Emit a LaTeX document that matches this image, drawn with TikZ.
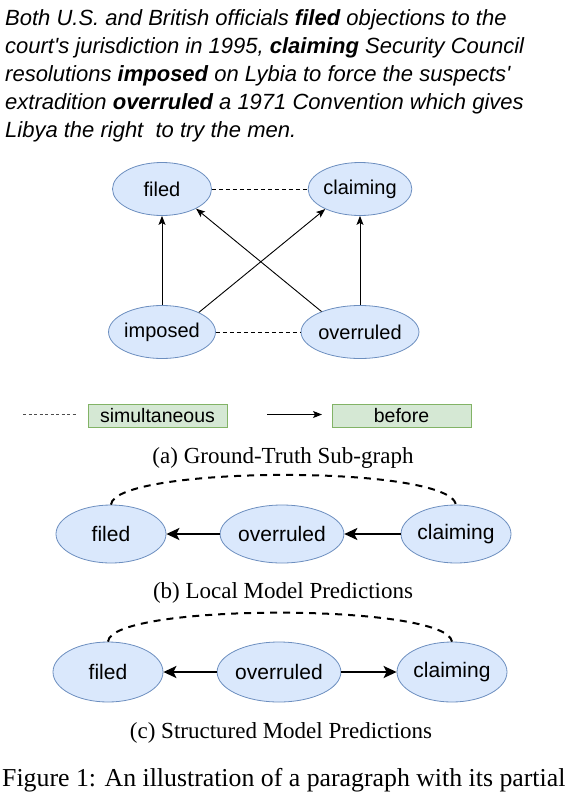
\documentclass[tikz,border=0pt]{standalone}
\usepackage{fontspec}
\setmainfont{Liberation Serif}
\newfontfamily\hv{Liberation Sans}
\usetikzlibrary{arrows.meta,shapes.geometric}
\definecolor{bfill}{HTML}{DAE8FC}
\definecolor{bdraw}{HTML}{6C8EBF}
\definecolor{gfill}{HTML}{D5E8D4}
\definecolor{gdraw}{HTML}{82B366}
\tikzset{
  ev/.style={ellipse,draw=bdraw,fill=bfill,line width=0.8pt,inner sep=0pt,font=\hv\fontsize{20}{24}\selectfont},
  evb/.style={ev,font=\hv\fontsize{21}{25}\selectfont},
  legbox/.style={rectangle,draw=gdraw,fill=gfill,line width=0.9pt,inner sep=0pt,minimum height=23pt,font=\hv\fontsize{19.5}{23}\selectfont},
  thinarr/.style={line width=0.9pt,-{Stealth[length=9pt,width=7pt,inset=2pt]}},
  thickarr/.style={line width=2pt,-{Stealth[length=13pt,width=12pt,inset=3pt]}},
  simthin/.style={line width=0.8pt,dash pattern=on 4pt off 3pt},
  simthick/.style={line width=2pt,dash pattern=on 7pt off 6pt},
  para/.style={anchor=base west,inner sep=0pt,font=\hv\itshape\fontsize{22}{28}\selectfont},
  capt/.style={anchor=base,inner sep=0pt,font=\fontsize{23}{27}\selectfont},
}
\begin{document}
\begin{tikzpicture}[x=1pt,y=-1pt]
\useasboundingbox (0,0) rectangle (573,798);
\clip (0,0) rectangle (573,798);
% paragraph
\node[para] (l1) at (5,25) {Both U.S. and British officials \textbf{filed} objections to the};
\node[para] (l2) at (5,53) {court's jurisdiction in 1995, \textbf{claiming} Security Council};
\node[para] (l3) at (5,81) {resolutions \textbf{imposed} on Lybia to force the suspects'};
\node[para] (l4) at (5,109) {extradition \textbf{overruled} a 1971 Convention which gives};
\node[para] (l5) at (5,137) {Libya the right\ \ to try the men.};
% (a)
\node[ev,minimum width=99pt,minimum height=53pt] (fa) at (162,189) {filed};
\node[ev,minimum width=100pt,minimum height=53pt] (ca) at (360,189) {claiming};
\node[ev,minimum width=99pt,minimum height=53pt] (ia) at (162,332) {imposed};
\node[ev,minimum width=100pt,minimum height=53pt] (oa) at (360,332) {overruled};
\draw[simthin] (fa) -- (ca);
\draw[simthin] (ia) -- (oa);
\draw[thinarr] (ia) -- (fa);
\draw[thinarr] (oa) -- (ca);
\draw[thinarr] (ia.28) -- (ca.210);
\draw[thinarr] (oa.152) -- (fa.330);
% legend
\coordinate (d1) at (23,414.5);
\coordinate (d2) at (77,414.5);
\draw[line width=0.8pt,color=black!70,dash pattern=on 3pt off 2.5pt] (d1) -- (d2);
\node[legbox,minimum width=139pt] (sim) at (157.5,415.5) {simultaneous};
\coordinate (a1) at (267,414.5);
\coordinate (a2) at (322,414.5);
\draw[thinarr] (a1) -- (a2);
\node[legbox,minimum width=139pt] (bef) at (401.5,415.5) {before};
\node[capt] (capa) at (283,463) {(a) Ground-Truth Sub-graph};
% (b)
\node[evb,minimum width=110pt,minimum height=58pt] (fb) at (111,534) {filed};
\node[evb,minimum width=113pt,minimum height=58pt] (ob) at (282,534) {overruled};
\node[evb,minimum width=110pt,minimum height=58pt] (cb) at (456,534) {claiming};
\draw[thickarr] (ob) -- (fb);
\draw[thickarr] (cb) -- (ob);
\draw[simthick] (fb.north) .. controls (114,466) and (448,464) .. (cb.north);
\node[capt] (capb) at (283,598) {(b) Local Model Predictions};
% (c)
\node[evb,minimum width=110pt,minimum height=60pt] (fc) at (108,672) {filed};
\node[evb,minimum width=112pt,minimum height=60pt] (oc) at (279,672) {overruled};
\node[evb,minimum width=110pt,minimum height=60pt] (cc) at (452,672) {claiming};
\draw[thickarr] (oc) -- (fc);
\draw[thickarr] (oc) -- (cc);
\draw[simthick] (fc.north) .. controls (111,603) and (446,603) .. (cc.north);
\node[capt] (capc) at (281,738) {(c) Structured Model Predictions};
\node[capt,anchor=base west,font=\fontsize{25.8}{30}\selectfont] (fig) at (2,786) {Figure 1: An illustration of a paragraph with its partial};
\end{tikzpicture}
\end{document}
